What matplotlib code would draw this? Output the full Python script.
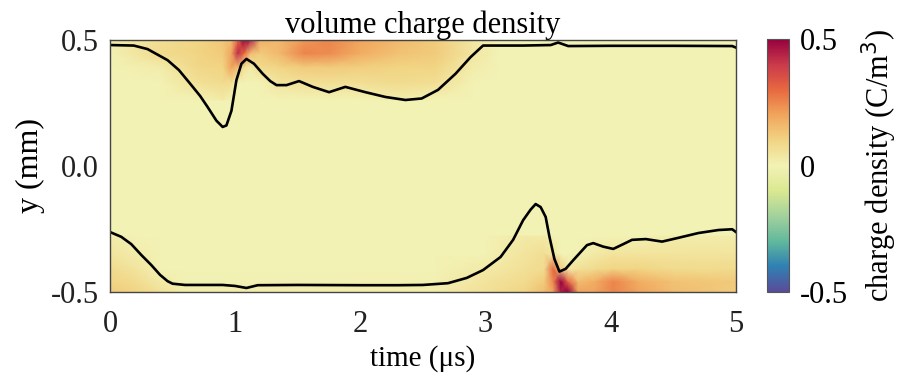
import matplotlib
matplotlib.use("Agg")
import matplotlib.pyplot as plt
from matplotlib.colors import Normalize, ListedColormap
import numpy as np

# ----------------------------------------------------
# Boundary lines
# ----------------------------------------------------
up_t = [0, 0.19, 0.3, 0.46, 0.55, 0.64, 0.72, 0.78, 0.85, 0.90, 0.93, 0.97,
        1.01, 1.05, 1.09, 1.15, 1.22, 1.28, 1.33, 1.41, 1.51, 1.62, 1.75,
        1.88, 2.04, 2.2, 2.36, 2.49, 2.62, 2.76, 2.88, 2.98, 3.3, 3.52, 3.58,
        3.66, 4.0, 4.5, 4.97, 5.0]
up_y = [0.478, 0.476, 0.462, 0.418, 0.379, 0.325, 0.276, 0.232, 0.178, 0.153,
        0.159, 0.217, 0.339, 0.404, 0.423, 0.404, 0.364, 0.335, 0.319, 0.319,
        0.335, 0.312, 0.291, 0.312, 0.291, 0.272, 0.260, 0.266, 0.300, 0.364,
        0.430, 0.476, 0.476, 0.478, 0.488, 0.474, 0.475, 0.475, 0.474, 0.468]

lo_t = [0, 0.09, 0.17, 0.25, 0.33, 0.40, 0.46, 0.5, 0.6, 0.9, 1.0, 1.09,
        1.18, 1.5, 2.0, 2.3, 2.5, 2.7, 2.85, 2.98, 3.12, 3.22, 3.3, 3.36, 3.4,
        3.44, 3.48, 3.51, 3.55, 3.59, 3.64, 3.7, 3.81, 3.86, 3.94, 4.02, 4.1,
        4.17, 4.28, 4.41, 4.54, 4.7, 4.86, 4.97, 5.0]
lo_y = [-0.264, -0.283, -0.312, -0.355, -0.395, -0.434, -0.459, -0.469,
        -0.474, -0.474, -0.478, -0.486, -0.475, -0.474, -0.475, -0.475,
        -0.474, -0.467, -0.446, -0.415, -0.363, -0.295, -0.217, -0.175,
        -0.153, -0.165, -0.204, -0.282, -0.371, -0.421, -0.410, -0.376,
        -0.316, -0.308, -0.322, -0.331, -0.312, -0.295, -0.292, -0.302,
        -0.287, -0.268, -0.256, -0.253, -0.264]

# ----------------------------------------------------
# Charge density near the walls (C/m^3), coarse grid
# ----------------------------------------------------
top_t = [0, 0.4, 0.7, 0.9, 0.97, 1.02, 1.07, 1.12, 1.2, 1.35, 1.55, 1.75,
         2.0, 2.3, 2.6, 2.9, 3.1, 5.0]
top_y = [0.26, 0.33, 0.39, 0.445, 0.5]
top_q = [
    [0, 0, 0, 0.03, 0, 0, 0, 0, 0, 0, 0, 0, 0, 0.02, 0, 0, 0, 0],
    [0, 0, 0.06, 0.08, 0.07, 0, 0, 0, 0, 0.05, 0.06, 0.07, 0.07, 0.08, 0.07, 0, 0, 0],
    [0, 0.02, 0.09, 0.1, 0.2, 0.15, 0.06, 0.03, 0.08, 0.1, 0.12, 0.12, 0.11, 0.1, 0.1, 0.02, 0, 0],
    [0, 0.08, 0.1, 0.12, 0.2, 0.42, 0.3, 0.15, 0.12, 0.16, 0.25, 0.24, 0.18, 0.14, 0.12, 0.04, 0, 0],
    [0.02, 0.07, 0.1, 0.13, 0.15, 0.3, 0.5, 0.45, 0.18, 0.16, 0.22, 0.25, 0.2, 0.16, 0.12, 0.04, 0, 0],
]

bot_t = [0, 0.2, 0.4, 0.6, 2.6, 3.0, 3.32, 3.47, 3.54, 3.6, 3.66, 3.74, 3.87,
         4.02, 4.22, 4.5, 5.0]
bot_y = [-0.5, -0.46, -0.41, -0.35, -0.28]
bot_q = [
    [0.12, 0.1, 0.06, 0.02, 0.02, 0.06, 0.1, 0.15, 0.2, 0.45, 0.5, 0.2, 0.2, 0.25, 0.2, 0.15, 0.12],
    [0.1, 0.08, 0.03, 0, 0.01, 0.05, 0.08, 0.12, 0.25, 0.5, 0.3, 0.15, 0.18, 0.25, 0.18, 0.14, 0.12],
    [0.08, 0.05, 0, 0, 0, 0.03, 0.06, 0.08, 0.3, 0.12, 0.03, 0.06, 0.08, 0.1, 0.1, 0.08, 0.08],
    [0.05, 0.02, 0, 0, 0, 0, 0.05, 0.07, 0.04, 0, 0, 0, 0.03, 0.05, 0.05, 0.05, 0.05],
    [0.02, 0, 0, 0, 0, 0, 0.03, 0.03, 0, 0, 0, 0, 0, 0, 0, 0.02, 0.02],
]

x_ticks = [0, 1, 2, 3, 4, 5]
y_ticks = [-0.5, 0.0, 0.5]
y_tick_labels = ["-0.5", "0.0", "0.5"]
cb_ticks = [-0.5, 0, 0.5]
cb_tick_labels = ["-0.5", "0", "0.5"]

# ----------------------------------------------------
# Plot
# ----------------------------------------------------
plt.rcParams["font.family"] = ["Liberation Serif", "DejaVu Serif"]

# Spectral_r, slightly muted like the original figure
base = plt.get_cmap("Spectral_r")(np.linspace(0, 1, 256))
base[:, :3] *= 0.95
cmap = ListedColormap(base)
norm = Normalize(vmin=-0.5, vmax=0.5)

fig = plt.figure(figsize=(9.03, 3.81), dpi=100)
ax = fig.add_axes([0.1218, 0.2349, 0.6932, 0.6614])
cax = fig.add_axes([0.8494, 0.2336, 0.0244, 0.664])

ax.set_facecolor(cmap(norm(0)))

T, Y = np.meshgrid(top_t, top_y)
ax.pcolormesh(T, Y, np.array(top_q), cmap=cmap, norm=norm, shading="gouraud")
T, Y = np.meshgrid(bot_t, bot_y)
ax.pcolormesh(T, Y, np.array(bot_q), cmap=cmap, norm=norm, shading="gouraud")

ax.plot(up_t, up_y, color="black", lw=1.9)
ax.plot(lo_t, lo_y, color="black", lw=1.9)

ax.set_xlim(0, 5)
ax.set_ylim(-0.5, 0.5)
ax.set_xticks(x_ticks)
ax.set_yticks(y_ticks)
ax.set_yticklabels(y_tick_labels)
ax.tick_params(length=0, labelsize=22, pad=8, colors="#222222")
ax.tick_params(axis="x", pad=13)
for s in ax.spines.values():
    s.set_color("#444444")
    s.set_linewidth(1.0)

ax.set_xlabel("time (μs)", fontsize=21, labelpad=5)
ax.set_ylabel("y (mm)", fontsize=23, labelpad=4)
ax.set_title("volume charge density", fontsize=22, pad=2)

sm = plt.cm.ScalarMappable(norm=norm, cmap=cmap)
cb = fig.colorbar(sm, cax=cax, ticks=cb_ticks)
cb.ax.set_yticklabels(cb_tick_labels)
cb.ax.tick_params(length=0, labelsize=22, pad=8)
cb.outline.set_edgecolor("#555555")
cb.set_label("charge density (C/m$^3$)", fontsize=22, labelpad=8)

fig.savefig("out.png", dpi=100)
